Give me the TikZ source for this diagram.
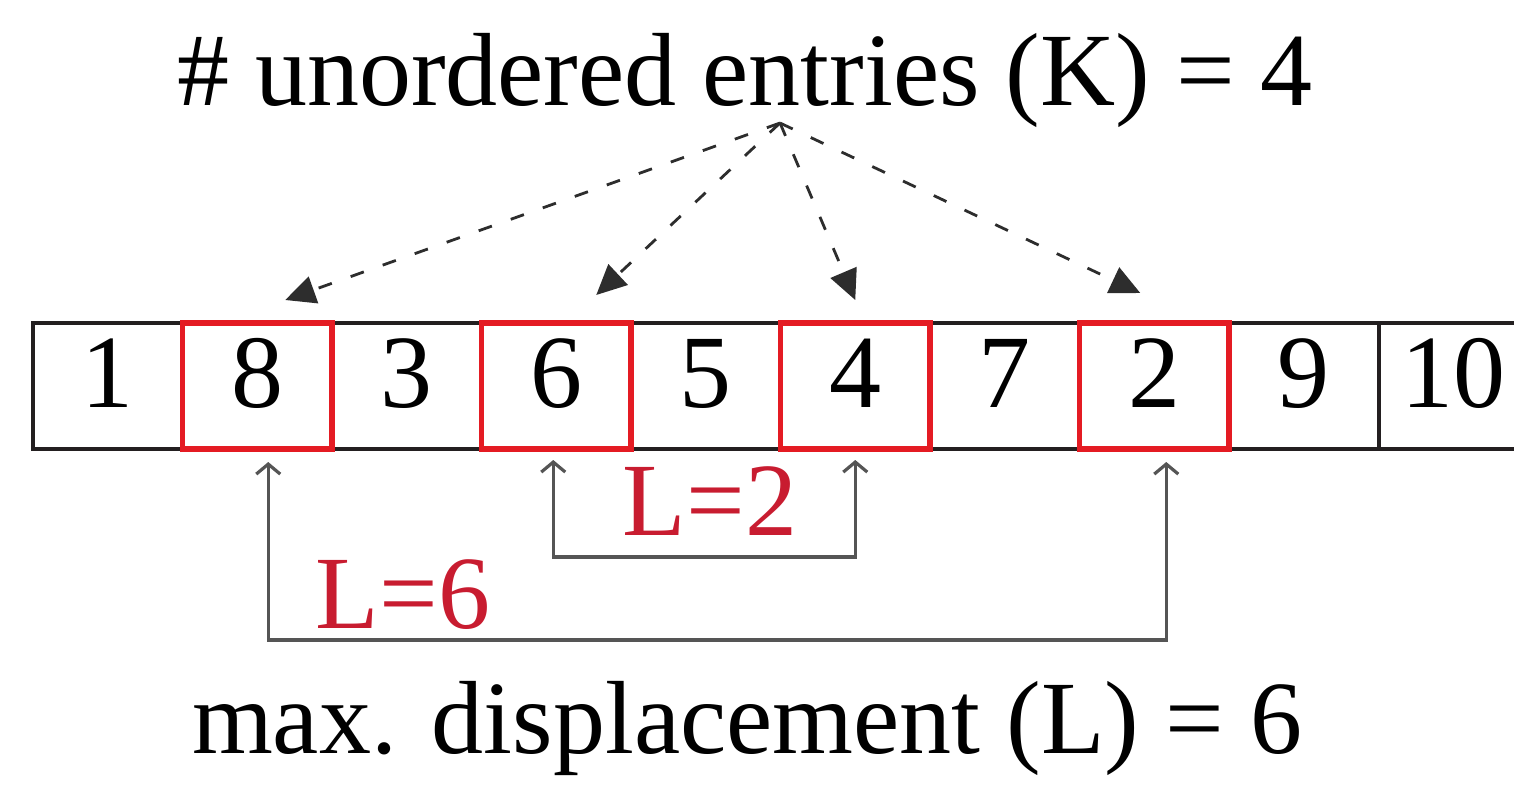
\documentclass[tikz,border=0pt]{standalone}
\usepackage{fontspec}
\setmainfont{Liberation Serif}
\usetikzlibrary{arrows.meta}
\definecolor{boxred}{RGB}{228,27,35}
\definecolor{labred}{RGB}{200,28,48}
\definecolor{cellblack}{RGB}{35,31,32}
\definecolor{dashgray}{RGB}{45,45,45}
\definecolor{conngray}{RGB}{85,85,85}
\newcommand{\bigfont}{\fontsize{52}{60}\selectfont}
\begin{document}
\begin{tikzpicture}[x=0.5pt,y=-0.5pt,
  cell/.style={draw=cellblack, line width=2pt, minimum width=74.75pt,
    inner sep=0pt, outer sep=0pt, text height=42pt, text depth=21pt,
    font=\bigfont, text=black},
  redbox/.style={draw=boxred, line width=2.8pt},
  txt/.style={font=\bigfont, inner sep=0pt, text=black},
  lab/.style={font=\bigfont, inner sep=0pt, text=labred},
  dasharrow/.style={draw=dashgray, line width=1.4pt, dash pattern=on 7pt off 10pt,
    -{Triangle[length=15pt,width=14pt]}},
  conn/.style={draw=conngray, line width=1.6pt,
    {Straight Barb[length=5pt,width=12pt]}-{Straight Barb[length=5pt,width=12pt]}}]
\clip (0,0) rectangle (1514,792);
% cells
\foreach \v [count=\i] in {1,8,3,6,5,4,7,2,9,10}
  \node[cell] (c\i) at ({-41.75+149.5*\i}, 386) {\v};
\foreach \i in {2,4,6,8}
  \draw[redbox] (c\i.north west) rectangle (c\i.south east);
% texts
\node[txt, anchor=base] (title) at (745,105) {\# unordered entries (K) = 4};
\node[txt, anchor=base] (caption) at (747,753) {max. displacement (L) = 6};
\node[lab, anchor=base] (l2) at (710,535) {L=2};
\node[lab, anchor=base] (l6) at (403,628) {L=6};
% dashed arrows
\coordinate (apex) at (780,123);
\draw[dasharrow] (apex) -- ([xshift=14pt,yshift=11.5pt]c2.north);
\draw[dasharrow] (apex) -- ([xshift=20pt,yshift=14pt]c4.north);
\draw[dasharrow] (apex) -- ([yshift=11.5pt]c6.north);
\draw[dasharrow] (apex) -- ([xshift=-7pt,yshift=15pt]c8.north);
% displacement brackets
\draw[conn] ([xshift=-1.5pt,yshift=-5.5pt]c4.south) -- ++(0,97) -| ([yshift=-5.5pt]c6.south);
\draw[conn] ([xshift=5.5pt,yshift=-6.5pt]c2.south) -- ++(0,178) -| ([xshift=6pt,yshift=-6.5pt]c8.south);
\end{tikzpicture}
\end{document}
